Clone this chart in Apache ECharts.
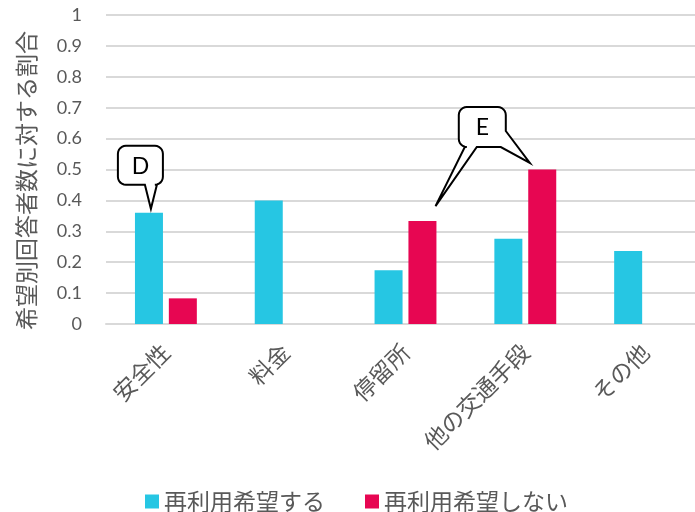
<!DOCTYPE html>
<html>
<head>
<meta charset="utf-8">
<script src="https://cdn.jsdelivr.net/npm/echarts@6/dist/echarts.min.js"></script>
<style>
  html, body { margin: 0; padding: 0; background: #fff; }
  #chart { width: 695px; height: 512px; }
</style>
</head>
<body>
<div id="chart"></div>
<script>
// Reasons given, as share of respondents in each group
const categories = ['安全性', '料金', '停留所', '他の交通手段', 'その他'];
const seriesNames = ['再利用希望する', '再利用希望しない'];
const wantAgain = [0.36, 0.40, 0.174, 0.276, 0.236];
const notAgain = [0.083, 0, 0.333, 0.50, 0];
const yAxisTitle = '希望別回答者数に対する割合';

const CYAN = '#26C6E3';
const RED = '#E70652';
const TEXT = '#595959';
const CJK = '"Noto Sans CJK JP", "Noto Sans", sans-serif';
const NUM = 'Lato, "Open Sans", sans-serif';

const chart = echarts.init(document.getElementById('chart'), null, { renderer: 'canvas' });

chart.setOption({
  animation: false,
  backgroundColor: '#fff',
  grid: { left: 106, width: 599, top: 15, bottom: 188, containLabel: false, outerBoundsMode: 'none' },
  xAxis: {
    type: 'category',
    data: categories,
    axisLine: { show: true, lineStyle: { color: '#d9d9d9', width: 2 } },
    axisTick: { show: false },
    axisLabel: {
      rotate: 45,
      interval: 0,
      margin: 24,
      color: TEXT,
      fontSize: 23,
      fontFamily: CJK
    }
  },
  yAxis: {
    type: 'value',
    min: 0,
    max: 1,
    interval: 0.1,
    name: yAxisTitle,
    nameLocation: 'middle',
    nameRotate: 90,
    nameGap: 68,
    nameTextStyle: { color: TEXT, fontSize: 23, fontFamily: CJK, padding: [0, 22, 0, 0] },
    axisLine: { show: false },
    axisTick: { show: false },
    splitLine: { lineStyle: { color: '#d9d9d9', width: 2 } },
    axisLabel: { color: TEXT, fontSize: 18, fontFamily: NUM, margin: 24 }
  },
  legend: {
    bottom: -6,
    left: 140,
    icon: 'rect',
    itemWidth: 14,
    itemHeight: 14,
    itemGap: 40,
    textStyle: { color: TEXT, fontSize: 23, fontFamily: CJK },
    data: seriesNames
  },
  series: [
    {
      name: seriesNames[0],
      type: 'bar',
      data: wantAgain,
      barWidth: 28,
      barGap: '21%',
      itemStyle: { color: CYAN }
    },
    {
      name: seriesNames[1],
      type: 'bar',
      data: notAgain,
      barWidth: 28,
      itemStyle: { color: RED }
    }
  ]
});

// Speech-bubble callouts anchored to bar tops
function px(catIndex, value) {
  return chart.convertToPixel({ gridIndex: 0 }, [catIndex, value]);
}

// quarter-circle corner points, angles in degrees (screen coords, y down)
function corner(cx, cy, rad, a0, a1) {
  const pts = [];
  const steps = 6;
  for (let i = 0; i <= steps; i++) {
    const a = (a0 + (a1 - a0) * i / steps) * Math.PI / 180;
    pts.push([cx + rad * Math.cos(a), cy + rad * Math.sin(a)]);
  }
  return pts;
}

// clockwise outline of a rounded box, with an optional pointer on the bottom
// edge and an optional pointer leaving the lower-right corner
function bubble(l, t, r, b, rad, bottomPtr, sidePtr) {
  let pts = [];
  pts = pts.concat(corner(l + rad, t + rad, rad, 180, 270));   // top-left
  pts = pts.concat(corner(r - rad, t + rad, rad, 270, 360));   // top-right
  if (sidePtr) {
    pts.push([r, sidePtr.y1], sidePtr.tip, [sidePtr.x2, b]);
  } else {
    pts = pts.concat(corner(r - rad, b - rad, rad, 0, 90));    // bottom-right
  }
  if (bottomPtr) {
    pts.push([bottomPtr.right, b], bottomPtr.tip, [bottomPtr.left, b]);
  }
  pts = pts.concat(corner(l + rad, b - rad, rad, 90, 180));    // bottom-left
  return pts;
}

const graphics = [];

function addBubble(points, label, l, t, r, b) {
  graphics.push({
    type: 'polygon', shape: { points: points },
    style: { fill: '#fff', stroke: '#000', lineWidth: 2, lineJoin: 'miter' }, z: 100
  });
  graphics.push({
    type: 'text', x: (l + r) / 2, y: (t + b) / 2 + 1, z: 101,
    style: { text: label, fill: '#000', font: '23px ' + NUM, textAlign: 'center', textVerticalAlign: 'middle', align: 'center', verticalAlign: 'middle' }
  });
}

// D: points at the 安全性 "yes" bar
{
  const [cx, cy] = px(0, wantAgain[0]);
  const l = cx - 48, r = cx - 3, t = cy - 67, b = cy - 28;
  addBubble(bubble(l, t, r, b, 8,
    { left: cx - 21, right: cx - 9, tip: [cx - 15, cy - 4] }, null), 'D', l, t, r, b);
}

// E: points at the "no" bars of 停留所 and 他の交通手段
{
  const [ax, ay] = px(2, notAgain[2]);
  const [bx, by] = px(3, notAgain[3]);
  const l = bx - 66.5, r = bx - 19.5, t = by - 62.5, b = by - 22.5;
  addBubble(bubble(l, t, r, b, 8,
    { left: l + 6, right: l + 18, tip: [ax + 30, ay - 15] },
    { y1: t + 24, tip: [bx + 4.5, by - 6.5], x2: r - 5 }), 'E', l, t, r, b);
}

chart.setOption({ graphic: graphics });
</script>
</body>
</html>
